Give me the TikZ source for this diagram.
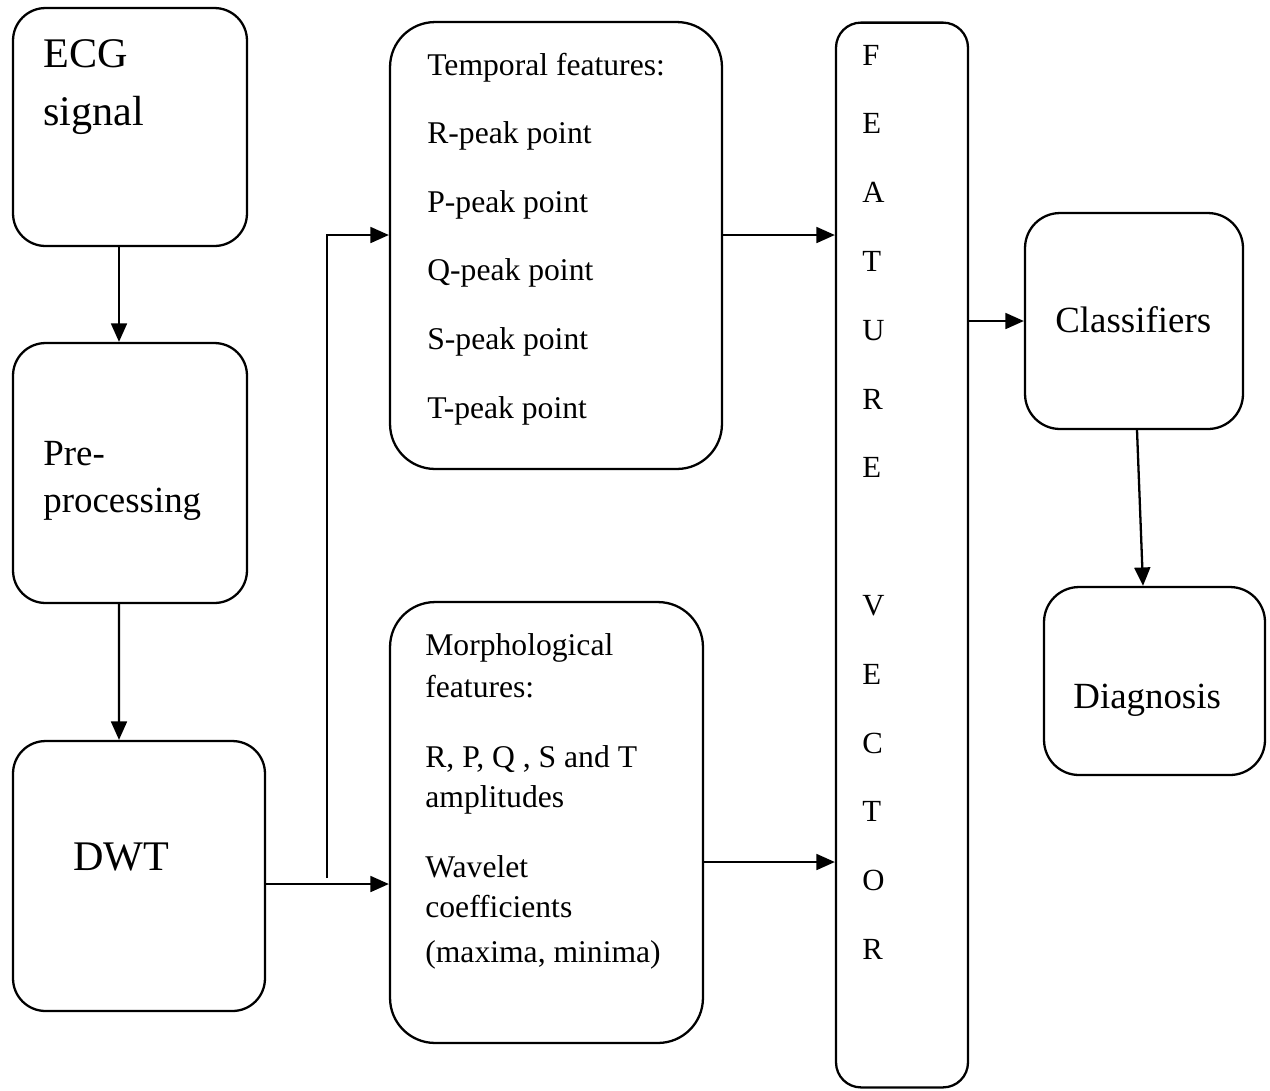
\documentclass[tikz,border=0pt]{standalone}
\usepackage{fontspec}
\setmainfont{Liberation Serif}
\usetikzlibrary{arrows.meta,positioning,calc}

\begin{document}
\begin{tikzpicture}[x=0.02cm, y=-0.02cm,
    box/.style={rectangle, draw, line width=1.3pt, rounded corners=0.65cm},
    txt/.style={anchor=base west, inner sep=0pt},
    arrow/.style={-{Triangle[length=10.5pt,width=9pt]}, line width=1.3pt},
    hugetxt/.style={font=\fontsize{24}{28}\selectfont},
    bigtxt/.style={font=\fontsize{21}{25}\selectfont},
    midtxt/.style={font=\fontsize{18}{22}\selectfont}]
  \useasboundingbox (0,0) rectangle (1270,1090);

  % boxes
  \node[box, minimum width=4.68cm, minimum height=4.76cm] (ecg) at (130,127) {};
  \node[box, minimum width=4.68cm, minimum height=5.2cm] (pre) at (130,473) {};
  \node[box, minimum width=5.04cm, minimum height=5.4cm] (dwt) at (139,876) {};
  \node[box, rounded corners=0.9cm, minimum width=6.64cm, minimum height=8.94cm] (temp) at (556,245.5) {};
  \node[box, rounded corners=0.9cm, minimum width=6.26cm, minimum height=8.82cm] (morph) at (546.5,822.5) {};
  \node[box, rounded corners=0.5cm, minimum width=2.64cm, minimum height=21.3cm] (fv) at (902,555) {};
  \node[box, rounded corners=0.7cm, minimum width=4.36cm, minimum height=4.32cm] (cls) at (1134,321) {};
  \node[box, rounded corners=0.7cm, minimum width=4.42cm, minimum height=3.76cm] (diag) at (1154.5,681) {};

  % texts
  \node[txt, hugetxt] (ecgA) at (43,67) {ECG};
  \node[txt, hugetxt] (ecgB) at (43,125) {signal};
  \node[txt, bigtxt] (preA) at (43,465) {Pre-};
  \node[txt, bigtxt] (preB) at (43,512) {processing};
  \node[txt, hugetxt] (dwtA) at (73,870) {DWT};
  \foreach \t [count=\i from 0] in {Temporal features:, R-peak point, P-peak point, Q-peak point, S-peak point, T-peak point}
    \node[txt, midtxt] (tempL\i) at (427, 75+68.6*\i) {\t};
  \foreach \y/\t [count=\i] in {655/Morphological, 697/features:, 767/{R, P, Q , S and T}, 807/amplitudes, 877/Wavelet, 917/coefficients, 962/{(maxima, minima)}}
    \node[txt, midtxt] (morphL\i) at (425,\y) {\t};
  \foreach \k/\ch in {0/F,1/E,2/A,3/T,4/U,5/R,6/E,8/V,9/E,10/C,11/T,12/O,13/R}
    \node[txt, font=\fontsize{17.5}{21}\selectfont] (fvL\k) at (862, 65+68.8*\k) {\ch};
  \node[txt, bigtxt] (clsA) at (1055,332) {Classifiers};
  \node[txt, bigtxt] (diagA) at (1073,708) {Diagnosis};

  % connectors
  \coordinate (split) at (327,878);
  \draw[arrow] ([xshift=-0.22cm]ecg.south) -- ([xshift=-0.22cm]pre.north);
  \draw[arrow] ([xshift=-0.22cm]pre.south) -- ([xshift=-0.4cm]dwt.north);
  \draw[arrow] ([yshift=-0.16cm]dwt.east) -- ([yshift=-0.16cm]dwt.east -| morph.west);
  \draw[arrow] (split) |- ([yshift=0.21cm]temp.west);
  \draw[arrow] ([yshift=0.21cm]temp.east) -- ([yshift=0.21cm]temp.east -| fv.west);
  \draw[arrow] ([yshift=-0.79cm]morph.east) -- ([yshift=-0.79cm]morph.east -| fv.west);
  \draw[arrow] (fv.east |- cls.west) -- (cls.west);
  \draw[arrow] ([xshift=0.06cm]cls.south) -- ([xshift=-0.23cm]diag.north);
\end{tikzpicture}
\end{document}
